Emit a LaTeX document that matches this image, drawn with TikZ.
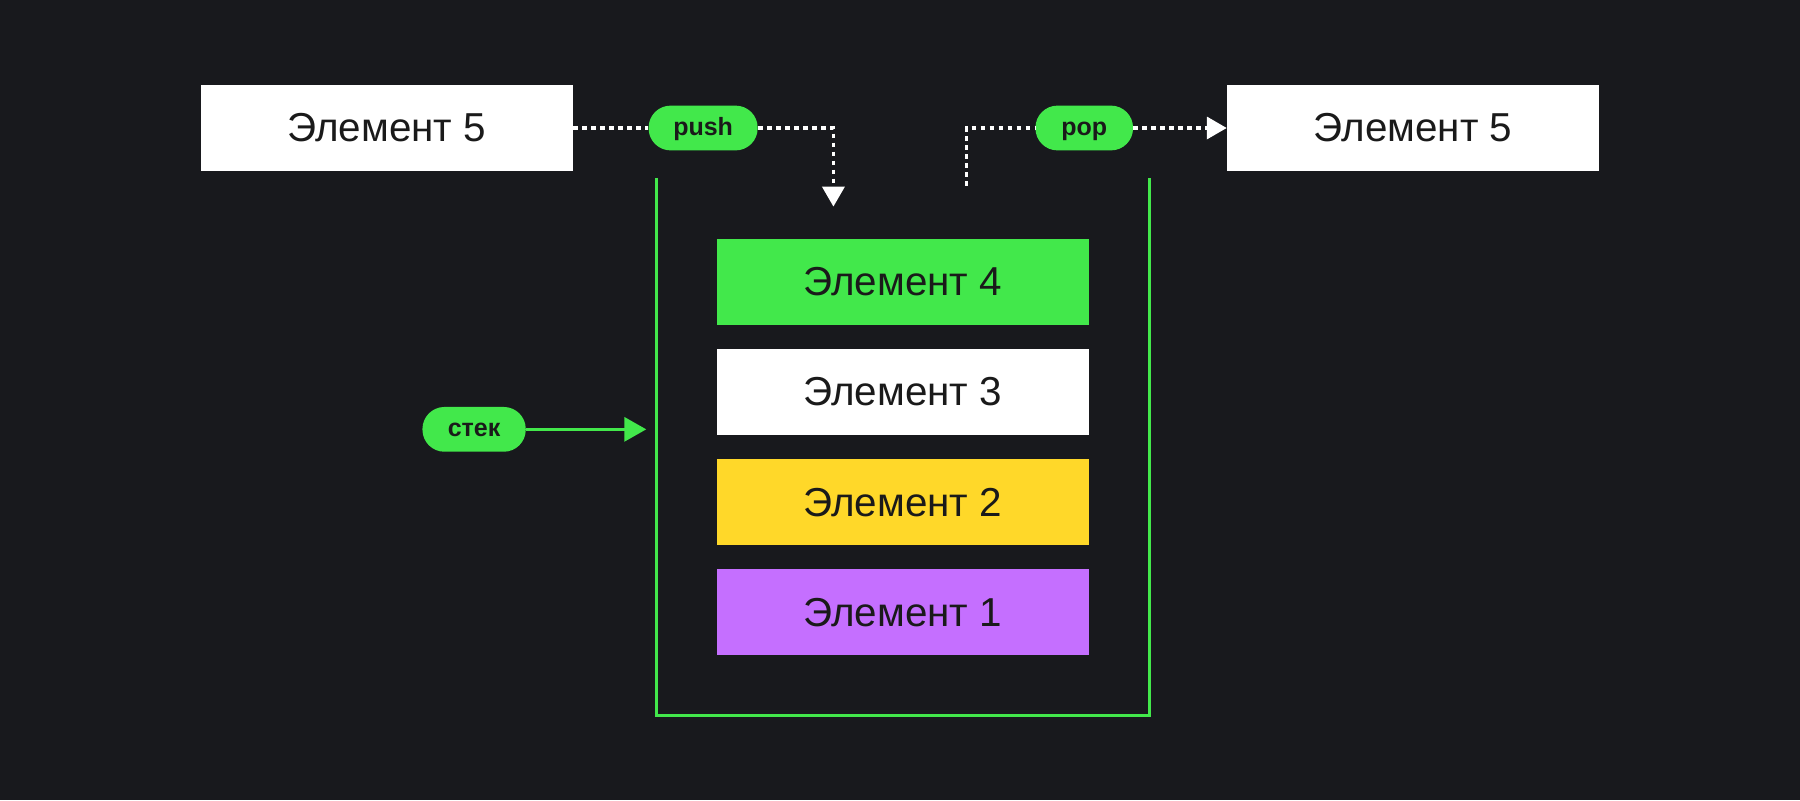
\documentclass[tikz,border=0pt]{standalone}
\usepackage{fontspec}
\setmainfont{Liberation Sans}
\usetikzlibrary{arrows.meta}
\definecolor{bg}{HTML}{18191D}
\definecolor{sgreen}{HTML}{42E84B}
\definecolor{syellow}{HTML}{FFD829}
\definecolor{spurple}{HTML}{C56FFF}
\definecolor{stext}{HTML}{1A1A1A}
\begin{document}
\begin{tikzpicture}[x=0.574pt,y=-0.574pt,
  elbox/.style={minimum width=324*0.574pt, minimum height=75*0.574pt, inner sep=0pt, text=stext, font=\fontsize{20.2}{24}\selectfont},
  pill/.style={fill=sgreen, rounded corners=11pt, minimum height=39*0.574pt, inner sep=0pt, text height=0.72em, text depth=0pt, text=stext, font=\bfseries\fontsize{12.5}{14}\selectfont},
  dotline/.style={white, line width=1.8pt, dash pattern=on 2.3pt off 2.2pt},
  wtip/.style={-{Triangle[width=11pt,length=10pt]}},
  gline/.style={sgreen, line width=1.6pt}
]
\fill[bg] (0,0) rectangle (1568,697);
\useasboundingbox (0,0) rectangle (1568,697);
% top boxes
\node[elbox, fill=white] (L) at (337,111.5) {Элемент 5};
\node[elbox, fill=white] (R) at (1231,111.5) {Элемент 5};
% stack elements
\node[elbox, fill=sgreen] (e4) at (786.5,245.5) {Элемент 4};
\node[elbox, fill=white] (e3) at (786.5,341.5) {Элемент 3};
\node[elbox, fill=syellow] (e2) at (786.5,437.5) {Элемент 2};
\node[elbox, fill=spurple] (e1) at (786.5,533.5) {Элемент 1};
% pills
\node[pill, minimum width=95*0.574pt] (push) at (612.5,111.5) {push};
\node[pill, minimum width=85*0.574pt] (pop) at (944.5,111.5) {pop};
\node[pill, minimum width=90*0.574pt] (stek) at (413,374) {стек};
% container
\coordinate (cTL) at (572,155);
\coordinate (cBR) at (1001,623);
\coordinate (cTR) at (1001,155);
\draw[gline] (cTL) |- (cBR) -- (cTR);
% push / pop connectors
\coordinate (pushend) at (726,180);
\coordinate (popstart) at (842,162);
\draw[dotline] (L.east) -- (push.west);
\draw[dotline, wtip] (push.east) -| (pushend);
\draw[dotline] (popstart) |- (pop.west);
\draw[dotline, wtip] (pop.east) -- (R.west);
% stek arrow
\coordinate (stekend) at (563,374);
\draw[gline, -{Triangle[width=12pt,length=11pt]}] (stek.east) -- (stekend);
\end{tikzpicture}
\end{document}
